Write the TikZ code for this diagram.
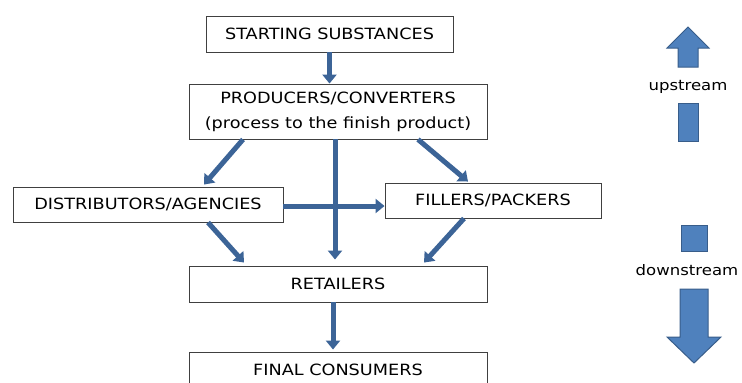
\documentclass[tikz,border=0pt]{standalone}
\usepackage{fontspec}
\setmainfont[FakeStretch=1.14]{DejaVu Sans}
\usetikzlibrary{arrows.meta}
\definecolor{flowblue}{HTML}{3C6497}
\definecolor{blockfill}{HTML}{4F81BD}
\definecolor{blockline}{HTML}{385D8A}

\begin{document}
\begin{tikzpicture}[x=1pt,y=-1pt,
    stage/.style={draw=black!75,line width=0.9pt,fill=white,inner sep=0pt,
        minimum width=298pt,minimum height=36pt,align=center,
        font=\fontsize{15.5}{25}\selectfont,text=black},
    flow/.style={draw=flowblue,line width=5pt,-{Triangle[width=14pt,length=9pt]}},
    block/.style={fill=blockfill,draw=blockline,line width=1pt},
    side/.style={font=\fontsize{14.5}{17}\selectfont,text=black}]
    \useasboundingbox (0,0) rectangle (742,383);
    \node[stage,minimum width=247pt] (start) at (329.5,34) {STARTING SUBSTANCES};
    \node[stage,minimum height=55pt] (prod) at (338,111.5) {PRODUCERS/CONVERTERS\\(process to the finish product)};
    \node[stage,minimum width=270pt,minimum height=35pt] (dist) at (148,204.5) {DISTRIBUTORS/AGENCIES};
    \node[stage,minimum width=216pt,minimum height=35pt] (fill) at (493,200.5) {FILLERS/PACKERS};
    \node[stage] (ret) at (338,284) {RETAILERS};
    \node[stage] (final) at (338,370) {FINAL CONSUMERS};

    \draw[flow] (start.south) -- (start.south |- prod.north);
    \draw[flow] ([xshift=-95pt]prod.south) -- ([xshift=56pt,yshift=2pt]dist.north);
    \draw[flow] ([xshift=-3pt]prod.south) -- ([xshift=-3pt,yshift=6pt]ret.north);
    \draw[flow] ([xshift=80pt]prod.south) -- ([xshift=-25pt,yshift=1pt]fill.north);
    \coordinate (dfa) at ([yshift=-1.5pt]dist.east);
    \draw[flow] (dfa) -- (dfa -| fill.west);
    \draw[flow] ([xshift=60pt]dist.south) -- ([xshift=-94pt,yshift=3pt]ret.north);
    \draw[flow] ([xshift=-29pt]fill.south) -- ([xshift=86pt,yshift=3pt]ret.north);
    \draw[flow] ([xshift=-5pt]ret.south) -- ([xshift=-5pt,yshift=2pt]final.north);

    \draw[block] (688,27) -- (709,48) -- (698,48) -- (698,67) -- (678,67) -- (678,48) -- (667,48) -- cycle;
    \node[side] (up) at (688,87) {upstream};
    \draw[block] (678,103) rectangle (698,141);
    \draw[block] (681,225) rectangle (707,251);
    \node[side] (down) at (687,270) {downstream};
    \draw[block] (680,289) -- (708,289) -- (708,337) -- (721,337) -- (694,363) -- (667,337) -- (680,337) -- cycle;
\end{tikzpicture}
\end{document}
